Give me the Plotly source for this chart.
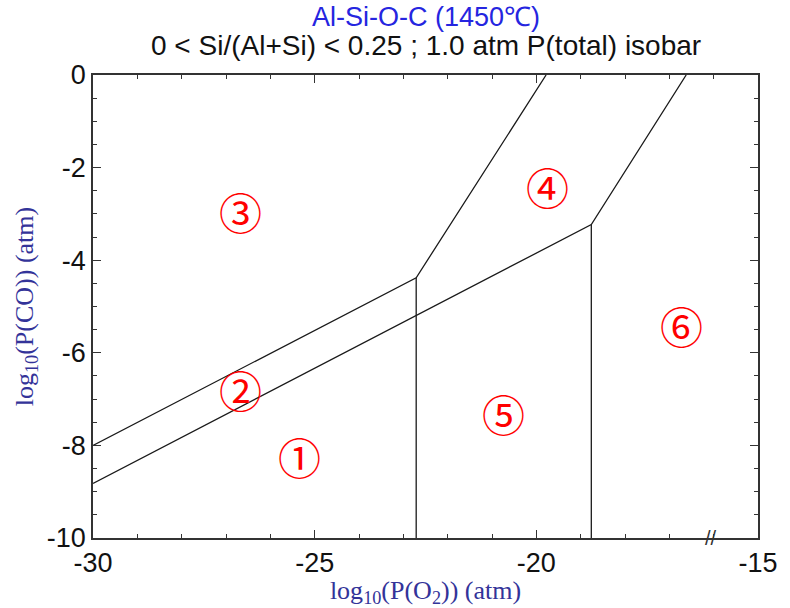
import plotly.graph_objects as go

# ---- data ----
upper_x = [-30.0, -22.71, -19.78]
upper_y = [-8.0, -4.38, 0.0]
lower_x = [-30.0, -18.76, -16.62]
lower_y = [-8.82, -3.23, 0.0]
vert1_x = [-22.71, -22.71]
vert1_y = [-4.38, -10.0]
vert2_x = [-18.76, -18.76]
vert2_y = [-3.23, -10.0]

region_labels = ["①", "②", "③", "④", "⑤", "⑥"]
region_x = [-25.36, -26.70, -26.70, -19.77, -20.77, -16.74]
region_y = [-8.24, -6.80, -2.96, -2.42, -7.32, -5.43]

x_range = [-30, -15]
y_range = [-10, 0]
x_tickvals = [-30, -25, -20, -15]
x_ticktext = ["-30", "-25", "-20", "-15"]
y_tickvals = [0, -2, -4, -6, -8, -10]
y_ticktext = ["0", "-2", "-4", "-6", "-8", "-10"]

title1 = "Al-Si-O-C (1450℃)"
title2 = "0 &lt; Si/(Al+Si) &lt; 0.25 ; 1.0 atm P(total) isobar"

fig = go.Figure()
line_style = dict(color="#1a1a1a", width=1.3)
for xs, ys in [(upper_x, upper_y), (lower_x, lower_y), (vert1_x, vert1_y), (vert2_x, vert2_y)]:
    fig.add_trace(go.Scatter(x=xs, y=ys, mode="lines", line=line_style,
                             hoverinfo="skip", showlegend=False))

# empty trace to activate the mirrored tick axes (top / right)
fig.add_trace(go.Scatter(x=[None], y=[None], xaxis="x2", yaxis="y2", mode="markers",
                         showlegend=False, hoverinfo="skip"))

for lab, lx, ly in zip(region_labels, region_x, region_y):
    fig.add_annotation(x=lx, y=ly, xref="x", yref="y", text=lab, showarrow=False,
                       font=dict(family="Noto Sans CJK SC", size=43, color="#ff0000"),
                       xanchor="center", yanchor="middle", xshift=1, yshift=1)

tickfont = dict(family="Liberation Sans", size=27, color="#111111")
common = dict(showline=True, linecolor="#333333", linewidth=1.5,
              ticks="inside", ticklen=8, tickcolor="#333333", tickwidth=1,
              showgrid=False, zeroline=False)

fig.update_layout(
    width=790, height=608,
    margin=dict(l=93, r=24, t=75, b=67),
    paper_bgcolor="white", plot_bgcolor="white",
    xaxis=dict(range=x_range, tickmode="array", tickvals=x_tickvals, ticktext=x_ticktext,
               tickfont=tickfont, mirror=True,
               minor=dict(dtick=1, tick0=-30, ticks="inside", ticklen=4, tickcolor="#333333", showgrid=False),
               title=dict(text="log<sub>10</sub>(P(O<sub>2</sub>)) (atm)",
                          font=dict(family="Liberation Serif", size=26, color="#333399"),
                          standoff=0),
               **common),
    yaxis=dict(range=y_range, tickmode="array", tickvals=y_tickvals, ticktext=y_ticktext,
               tickfont=tickfont, mirror=True,
               minor=dict(dtick=0.5, tick0=0, ticks="inside", ticklen=4, tickcolor="#333333", showgrid=False),
               title=dict(text="log<sub>10</sub>(P(CO)) (atm)",
                          font=dict(family="Liberation Serif", size=26, color="#333399"),
                          standoff=6),
               **common),
    xaxis2=dict(range=x_range, overlaying="x", side="top", anchor="y2",
                tickmode="array", tickvals=x_tickvals, showticklabels=False,
                minor=dict(dtick=1, tick0=-30, ticks="inside", ticklen=4, tickcolor="#333333", showgrid=False),
                **common),
    yaxis2=dict(range=y_range, overlaying="y", side="right", anchor="x2",
                tickmode="array", tickvals=y_tickvals, showticklabels=False,
                minor=dict(dtick=0.5, tick0=0, ticks="inside", ticklen=4, tickcolor="#333333", showgrid=False),
                **common),
)

fig.add_annotation(x=0.5, y=1.126, xref="paper", yref="paper", text=title1, showarrow=False,
                   font=dict(family="Liberation Sans", size=27, color="#2525e0"),
                   xanchor="center", yanchor="middle")
fig.add_annotation(x=0.5, y=1.064, xref="paper", yref="paper", text=title2, showarrow=False,
                   font=dict(family="Liberation Sans", size=28, color="#111111"),
                   xanchor="center", yanchor="middle")
# axis break mark
fig.add_annotation(x=-16.05, y=-10, xref="x", yref="y", text="//", showarrow=False,
                   font=dict(family="Liberation Sans", size=20, color="#333333"),
                   xanchor="center", yanchor="middle")

fig.write_html("out.html")
